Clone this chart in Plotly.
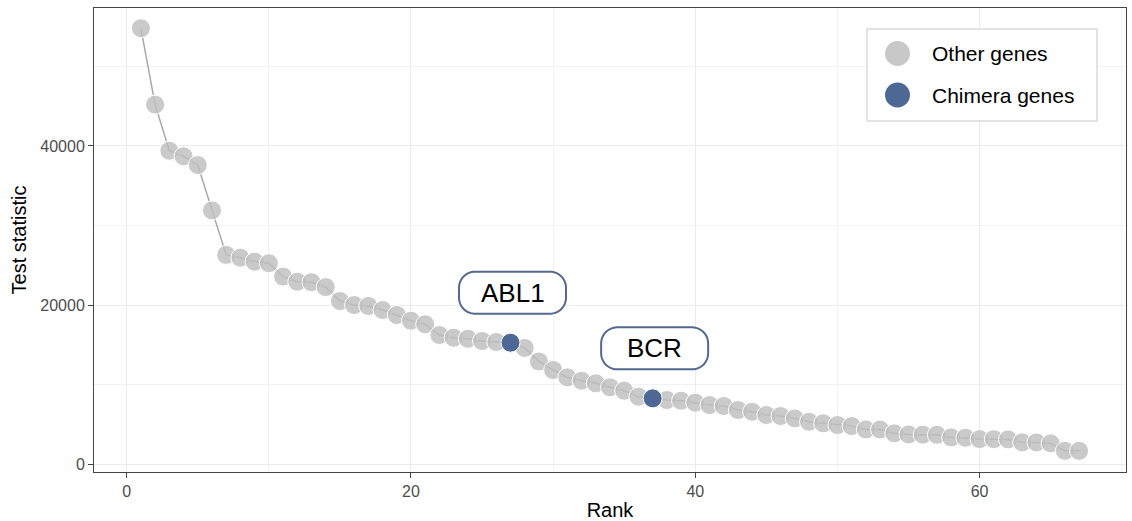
import math
import plotly.graph_objects as go

# ---- data ----
ranks = list(range(1, 68))
stat = [54800, 45200, 39400, 38700, 37600, 31900, 26300, 25950, 25450, 25250,
        23570, 22930, 22860, 22250, 20500, 20000, 19880, 19370, 18740, 18030,
        17570, 16230, 15890, 15760, 15470, 15350, 15260, 14600, 12900, 11830,
        10900, 10480, 10150, 9650, 9220, 8470, 8260, 8050, 7970, 7720,
        7420, 7300, 6790, 6580, 6160, 6040, 5740, 5320, 5120, 4910,
        4780, 4350, 4340, 3860, 3720, 3700, 3680, 3350, 3310, 3140,
        3130, 3100, 2730, 2720, 2600, 1670, 1660]
chimera_genes = ["ABL1", "BCR"]
chimera_ranks = [27, 37]
legend_labels = ["Other genes", "Chimera genes"]

GREY = "#C8C8C8"
BLUE = "#4E6896"
FONT = "Liberation Sans"

other_x = [r for r in ranks if r not in chimera_ranks]
other_y = [stat[r - 1] for r in other_x]
chim_y = [stat[r - 1] for r in chimera_ranks]

fig = go.Figure()
fig.add_trace(go.Scatter(x=ranks, y=stat, mode="lines",
                         line=dict(color="#A8A8A8", width=1.5),
                         showlegend=False, hoverinfo="skip"))
fig.add_trace(go.Scatter(x=other_x, y=other_y, mode="markers", name=legend_labels[0],
                         marker=dict(size=19, color="rgba(190,190,190,0.82)",
                                     line=dict(color="white", width=1)),
                         showlegend=False))
fig.add_trace(go.Scatter(x=chimera_ranks, y=chim_y, mode="markers", name=legend_labels[1],
                         marker=dict(size=19, color=BLUE,
                                     line=dict(color="white", width=1)),
                         showlegend=False))

# ---- label boxes (rounded, pixel-sized, anchored at the data point) ----
def rounded_rect(cx, cy, w, h, r, n=12):
    x0, x1 = cx - w / 2, cx + w / 2
    y0, y1 = cy - h / 2, cy + h / 2
    corners = [(x1 - r, y0 + r, -90), (x1 - r, y1 - r, 0),
               (x0 + r, y1 - r, 90), (x0 + r, y0 + r, 180)]
    pts = []
    for ccx, ccy, a0 in corners:
        for k in range(n + 1):
            a = math.radians(a0 + 90 * k / n)
            pts.append((ccx + r * math.cos(a), ccy + r * math.sin(a)))
    return "M" + " L".join(f"{x:.2f},{y:.2f}" for x, y in pts) + " Z"

DX, DY = 2, 50
for name, r, v in zip(chimera_genes, chimera_ranks, chim_y):
    fig.add_shape(type="path", xref="x", yref="y", xsizemode="pixel", ysizemode="pixel",
                  xanchor=r, yanchor=v, path=rounded_rect(DX, DY, 107, 42, 16),
                  line=dict(color="#55698F", width=2), fillcolor="white", layer="above")
    fig.add_annotation(x=r, y=v, xshift=DX, yshift=DY, text=name, showarrow=False,
                       font=dict(family=FONT, size=26, color="black"))

# ---- legend (drawn manually for ggplot-sized keys) ----
L, R, T, B = 94, 6, 8, 49
W, H = 1132 - L - R, 521 - T - B
px = lambda x: (x - L) / W
py = lambda y: (521 - B - y) / H
fig.add_shape(type="rect", xref="paper", yref="paper",
              x0=px(867), x1=px(1097), y0=py(121), y1=py(29),
              line=dict(color="#E3E3E3", width=2), fillcolor="white", layer="above")
for lab, col, yy in zip(legend_labels, [GREY, BLUE], [53.5, 95]):
    fig.add_shape(type="circle", xref="paper", yref="paper", xsizemode="pixel", ysizemode="pixel",
                  xanchor=px(897.5), yanchor=py(yy), x0=-12.5, x1=12.5, y0=-12.5, y1=12.5,
                  line=dict(width=0), fillcolor=col, layer="above")
    fig.add_annotation(xref="paper", yref="paper", x=px(930), y=py(yy), xanchor="left",
                       yanchor="middle", text=lab, showarrow=False,
                       font=dict(family=FONT, size=21, color="black"))

axis_common = dict(showline=True, linecolor="#444444", linewidth=1, mirror=True,
                   ticks="outside", ticklen=5, tickcolor="#444444", tickwidth=1,
                   showgrid=True, gridcolor="#EBEBEB", gridwidth=1, zeroline=False,
                   automargin=False, tickformat="d",
                   tickfont=dict(family=FONT, size=16, color="#4D4D4D"))
fig.update_xaxes(range=[-2.3, 70.3], tick0=0, dtick=20,
                 minor=dict(dtick=10, tick0=0, showgrid=True, gridcolor="#F2F2F2", ticklen=0),
                 title=dict(text="Rank", font=dict(family=FONT, size=20, color="black"), standoff=5),
                 **axis_common)
fig.update_yaxes(range=[-1000, 57350], tick0=0, dtick=20000,
                 minor=dict(dtick=10000, tick0=0, showgrid=True, gridcolor="#F2F2F2", ticklen=0),
                 title=dict(text="Test statistic", font=dict(family=FONT, size=20, color="black"), standoff=8),
                 **axis_common)
fig.update_layout(width=1132, height=521, margin=dict(l=L, r=R, t=T, b=B),
                  plot_bgcolor="white", paper_bgcolor="white", showlegend=False,
                  font=dict(family=FONT))
fig.write_html("out.html")
